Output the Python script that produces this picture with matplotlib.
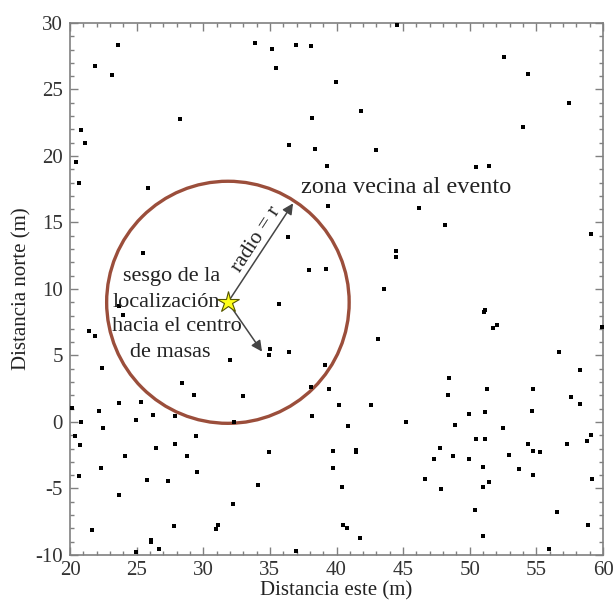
import matplotlib
matplotlib.use("Agg")
import matplotlib.pyplot as plt
import numpy as np

# event positions (m)
este = [23.58, 33.86, 21.86, 23.13, 28.25, 20.85, 21.15, 20.43, 20.65, 25.89,
        44.56, 35.16, 36.97, 38.07, 35.47, 39.97, 41.86, 38.17, 36.47, 38.35, 42.96, 39.27,
        52.56, 54.36, 57.44, 53.96, 50.47, 51.48,
        25.46, 23.68, 23.98, 21.45, 21.86, 22.38, 28.37, 32.00,
        39.37, 46.19, 48.17, 36.37, 44.46, 44.49, 37.97, 39.22, 43.58, 35.71, 43.13, 35.04,
        34.94, 36.47, 39.15, 48.47, 38.05, 39.47,
        59.07, 51.08, 51.18, 51.78, 52.08, 59.90, 56.66, 58.27, 51.32, 54.76,
        29.27, 32.96, 20.15, 22.18, 23.66, 25.36, 26.26, 27.87, 24.96, 20.85, 32.33, 22.48,
        20.35, 29.45, 20.78, 27.87, 26.49, 24.16, 28.77, 22.36, 29.55, 20.65, 25.77, 27.35,
        23.66, 34.08, 32.23, 21.68, 27.77, 31.09, 30.99, 26.06, 26.09, 26.67, 24.99,
        48.40, 40.17, 42.56, 38.17, 40.88, 45.23, 34.96, 39.74, 41.47, 41.47, 47.77, 47.34,
        39.74, 46.64, 47.87, 40.38, 40.45, 40.78, 41.75, 36.97,
        57.57, 58.27, 49.95, 51.15, 54.66, 48.87, 52.48, 59.07, 58.77, 57.27, 54.36, 50.47,
        51.18, 54.76, 55.26, 48.77, 49.97, 52.98, 50.98, 53.66, 54.76, 51.48, 50.98, 59.17,
        50.38, 56.56, 58.87, 50.98, 55.96]
norte = [28.35, 28.47, 26.77, 26.07, 22.76, 21.98, 20.95, 19.55, 17.95, 17.57,
         29.87, 28.05, 28.37, 28.25, 26.64, 25.54, 23.36, 22.86, 20.85, 20.55, 20.45, 19.25,
         27.47, 26.14, 23.96, 22.16, 19.15, 19.25,
         12.68, 8.72, 8.05, 6.86, 6.49, 4.04, 2.91, 4.68,
         16.26, 16.07, 14.79, 13.91, 12.86, 12.43, 11.43, 11.53, 9.98, 8.90, 6.24, 5.47,
         5.06, 5.26, 4.26, 3.33, 2.66, 2.48,
         14.16, 8.25, 8.45, 7.04, 7.27, 7.14, 5.26, 3.93, 2.45, 2.50,
         2.03, 1.95, 1.05, 0.83, 1.43, 1.53, 0.55, 0.45, 0.13, 0.00, 0.02, -0.45,
         -1.05, -1.05, -1.75, -1.63, -1.95, -2.56, -2.56, -3.48, -3.74, -4.08, -4.36, -4.44,
         -5.46, -4.76, -6.17, -8.14, -7.82, -7.77, -8.07, -8.87, -9.02, -9.57, -9.77,
         2.03, 1.26, 1.26, 0.45, -0.27, 0.02, -2.26, -2.16, -2.11, -2.28, -1.95, -2.78,
         -3.48, -4.26, -5.06, -4.89, -7.77, -7.95, -8.75, -9.67,
         1.86, 1.33, 0.63, 0.73, 0.83, -0.25, -0.45, -0.95, -1.45, -1.63, -1.63, -1.28,
         -1.28, -2.16, -2.26, -2.56, -2.78, -2.46, -3.38, -3.56, -3.96, -4.53, -4.89, -4.26,
         -6.64, -6.77, -7.77, -8.55, -9.57]

evento = (31.85, 9.0)
radio = 9.1
punta_radio = (36.74, 16.44)
punta_sesgo = (34.41, 5.29)

# the bias note, one line at a time (text, centre x, baseline y)
nota_sesgo = [('sesgo de la', 27.6, 10.6),
              ('localización', 27.2, 8.67),
              ('hacia el centro', 28.05, 6.86),
              ('de masas', 27.5, 4.91)]

plt.rcParams['font.family'] = ['Liberation Serif', 'DejaVu Serif']
plt.rcParams['axes.unicode_minus'] = False
texto = '#222222'
gris = '#808080'

fig = plt.figure(figsize=(6.13, 6.0), dpi=100)
ax = fig.add_axes([0.1142, 0.075, 0.8695, 0.8867])

ax.plot(este, norte, 's', color='black', markersize=2.8, markeredgewidth=0, zorder=3)

circ = plt.Circle(evento, radio, fill=False, color='#9b4e3b', lw=2.4, zorder=2)
ax.add_patch(circ)

for punta in (punta_radio, punta_sesgo):
    ax.annotate('', xy=punta, xytext=evento,
                arrowprops=dict(arrowstyle='-|>', color='#454545', lw=1.1,
                                mutation_scale=16, shrinkA=0, shrinkB=0),
                zorder=4)

ax.plot(*evento, marker='*', markersize=16, markerfacecolor='#ffff1a',
        markeredgecolor='#555500', markeredgewidth=0.8, zorder=5)

ax.text(37.3, 17.2, 'zona vecina al evento', fontsize=17.5, color=texto,
        ha='left', va='baseline', zorder=6)
ax.text(34.0, 13.7, 'radio = r', fontsize=15.5, color=texto, rotation=57,
        rotation_mode='anchor', ha='center', va='center', zorder=6)
for linea, x, y in nota_sesgo:
    ax.text(x, y, linea, fontsize=16, color=texto, ha='center', va='baseline',
            zorder=6)

ax.set_xlim(20, 60)
ax.set_ylim(-10, 30)
ax.set_xticks(np.arange(20, 61, 5))
ax.set_yticks(np.arange(-10, 31, 5))
ax.set_xticks(np.arange(20, 61, 1), minor=True)
ax.set_yticks(np.arange(-10, 31, 1), minor=True)
ax.tick_params(which='both', direction='in', top=True, right=True, color=gris,
               width=1.0)
ax.tick_params(which='major', length=5.5, labelsize=15, labelcolor='#333333')
ax.tick_params(which='minor', length=3.2)
ax.tick_params(axis='x', pad=4)
ax.tick_params(axis='y', pad=5)
for s in ax.spines.values():
    s.set_color(gris)
    s.set_linewidth(1.2)

ax.set_xlabel('Distancia este (m)', fontsize=15, color=texto, labelpad=1)
ax.set_ylabel('Distancia norte (m)', fontsize=15, color=texto, labelpad=3)

fig.savefig('out.png', dpi=100)
